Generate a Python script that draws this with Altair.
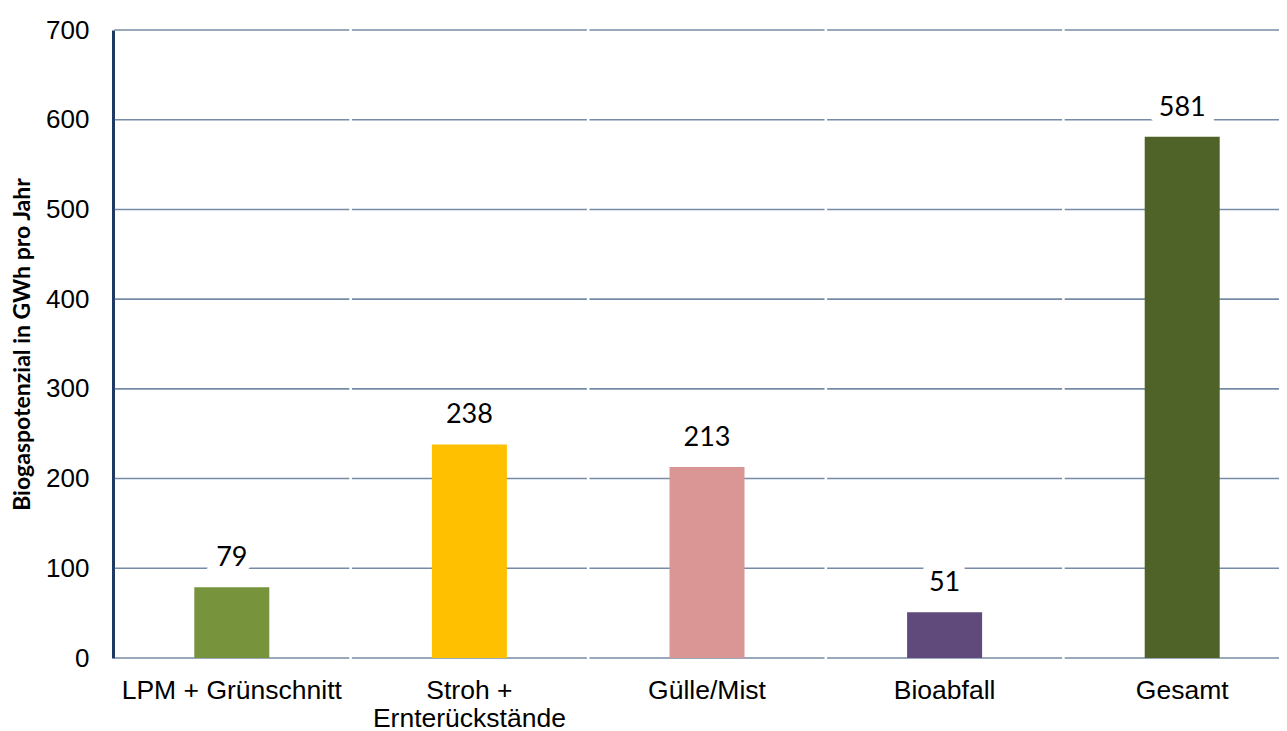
import altair as alt
import pandas as pd

categories = ["LPM + Grünschnitt", "Stroh + Ernterückstände", "Gülle/Mist", "Bioabfall", "Gesamt"]
values = [79, 238, 213, 51, 581]
colors = ["#77933C", "#FFC000", "#D99694", "#604A7B", "#4F6228"]
tick_values = [0, 100, 200, 300, 400, 500, 600, 700]

df = pd.DataFrame({"cat": categories, "val": values})
grid = pd.DataFrame([{"cat": c, "val": t} for c in categories for t in tick_values])

x_scale = alt.Scale(paddingInner=0, paddingOuter=0, range=[0, 1188])
x_enc = alt.X(
    "cat:N",
    sort=categories,
    title=None,
    scale=x_scale,
    axis=alt.Axis(
        domain=False,
        ticks=False,
        labelAngle=0,
        labelFont="Liberation Sans",
        labelFontSize=26.5,
        labelColor="#000000",
        labelPadding=19,
        labelLineHeight=28,
        labelBaseline="top",
        labelLimit=0,
        labelExpr="datum.label == 'Stroh + Ernterückstände' ? ['Stroh +', 'Ernterückstände'] : datum.label",
    ),
)
y_scale = alt.Scale(domain=[0, 700], nice=False)
y_axis = alt.Axis(
    values=tick_values,
    grid=False,
    ticks=False,
    domainColor="#1F3864",
    domainWidth=3,
    labelFont="Liberation Sans",
    labelFontSize=26,
    labelColor="#000000",
    labelPadding=24,
    title="Biogaspotenzial in GWh pro Jahr",
    titleFont="Lato",
    titleFontSize=23,
    titleFontWeight="bold",
    titleColor="#000000",
    titlePadding=11,
)

gridlayer = alt.Chart(grid).mark_tick(color="#3F5A80", thickness=1.6, size=235).encode(
    x=x_enc,
    y=alt.Y("val:Q", scale=y_scale, axis=y_axis),
)

bars = alt.Chart(df).mark_bar(size=75).encode(
    x=alt.X("cat:N", sort=categories),
    y=alt.Y("val:Q", scale=y_scale),
    color=alt.Color("cat:N", scale=alt.Scale(domain=categories, range=colors), legend=None),
)

halo = alt.Chart(df).mark_text(
    font="Lato", fontSize=27, baseline="bottom", dy=-15,
    color="white", stroke="white", strokeWidth=20, strokeJoin="miter",
).encode(
    x=alt.X("cat:N", sort=categories),
    y=alt.Y("val:Q", scale=y_scale),
    text="val:Q",
)

labels = alt.Chart(df).mark_text(
    font="Lato", fontSize=27, baseline="bottom", dy=-15, color="#000000",
).encode(
    x=alt.X("cat:N", sort=categories),
    y=alt.Y("val:Q", scale=y_scale),
    text="val:Q",
)

chart = alt.layer(gridlayer, bars, halo, labels).properties(
    width=1166, height=628,
    autosize=alt.AutoSizeParams(type="none"),
    padding={"left": 105, "top": 22, "right": 0, "bottom": 73},
).configure_view(stroke=None)

chart.save("out.html", embed_options={"renderer": "svg", "actions": False})
